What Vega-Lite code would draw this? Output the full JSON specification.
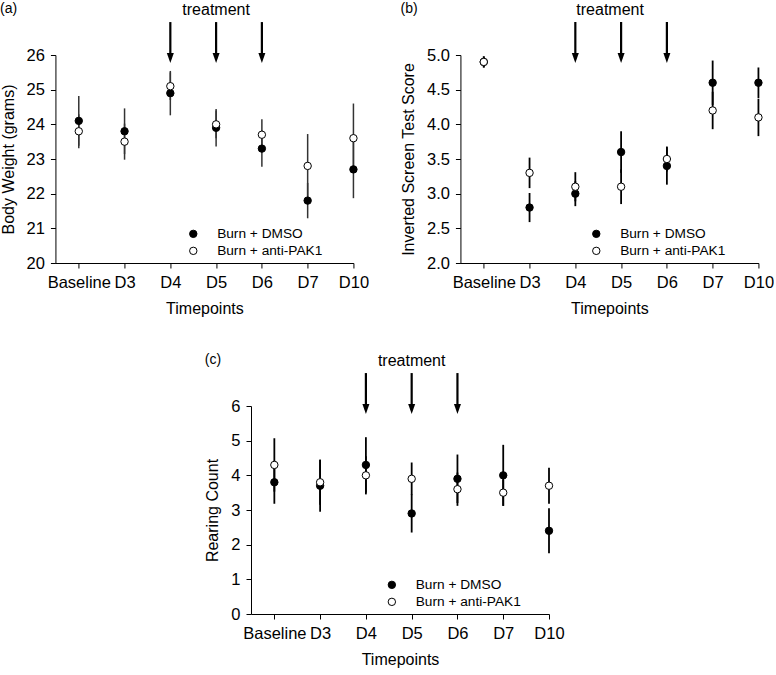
{
  "$schema": "https://vega.github.io/schema/vega-lite/v6.json",
  "padding": {"left": 0, "top": 1, "right": 0, "bottom": 0},
  "background": "white",
  "config": {
    "font": "Liberation Sans",
    "view": {"stroke": null},
    "axis": {
      "grid": false, "domainColor": "black", "tickColor": "black", "labelColor": "black", "titleColor": "black",
      "labelFontSize": 16.5, "titleFontSize": 16, "titleFontWeight": "normal", "tickSize": 5,
      "domainWidth": 1, "tickWidth": 1, "labelOverlap": false
    },
    "axisX": {"labelPadding": 6, "titlePadding": 10},
    "axisY": {"labelPadding": 6, "titlePadding": 10, "labelOverlap": false},
    "legend": {
      "labelFontSize": 13.7, "labelColor": "black", "symbolSize": 55, "symbolStrokeColor": "black",
      "symbolStrokeWidth": 1, "symbolType": "circle", "labelOffset": 17, "rowPadding": 2, "padding": 0
    },
    "title": {"fontSize": 14, "fontWeight": "normal", "anchor": "start", "frame": "bounds", "color": "black", "offset": -14}
  },
  "datasets": {
    "weight": [
      {"timepoint": "Baseline", "order": 0, "group": "Burn + DMSO", "mean": 24.1, "err": 0.72},
      {"timepoint": "D3", "order": 1, "group": "Burn + DMSO", "mean": 23.8, "err": 0.66},
      {"timepoint": "D4", "order": 2, "group": "Burn + DMSO", "mean": 24.9, "err": 0.64},
      {"timepoint": "D5", "order": 3, "group": "Burn + DMSO", "mean": 23.9, "err": 0.54},
      {"timepoint": "D6", "order": 4, "group": "Burn + DMSO", "mean": 23.3, "err": 0.52},
      {"timepoint": "D7", "order": 5, "group": "Burn + DMSO", "mean": 21.8, "err": 0.51},
      {"timepoint": "D10", "order": 6, "group": "Burn + DMSO", "mean": 22.7, "err": 0.83},
      {"timepoint": "Baseline", "order": 0, "group": "Burn + anti-PAK1", "mean": 23.8, "err": 0.49},
      {"timepoint": "D3", "order": 1, "group": "Burn + anti-PAK1", "mean": 23.5, "err": 0.52},
      {"timepoint": "D4", "order": 2, "group": "Burn + anti-PAK1", "mean": 25.1, "err": 0.4},
      {"timepoint": "D5", "order": 3, "group": "Burn + anti-PAK1", "mean": 24.0, "err": 0.4},
      {"timepoint": "D6", "order": 4, "group": "Burn + anti-PAK1", "mean": 23.7, "err": 0.45},
      {"timepoint": "D7", "order": 5, "group": "Burn + anti-PAK1", "mean": 22.8, "err": 0.92},
      {"timepoint": "D10", "order": 6, "group": "Burn + anti-PAK1", "mean": 23.6, "err": 1.0}
    ],
    "screen": [
      {"timepoint": "Baseline", "order": 0, "group": "Burn + DMSO", "mean": 4.9, "err": 0.08},
      {"timepoint": "D3", "order": 1, "group": "Burn + DMSO", "mean": 2.8, "err": 0.21},
      {"timepoint": "D4", "order": 2, "group": "Burn + DMSO", "mean": 3.0, "err": 0.18},
      {"timepoint": "D5", "order": 3, "group": "Burn + DMSO", "mean": 3.6, "err": 0.3},
      {"timepoint": "D6", "order": 4, "group": "Burn + DMSO", "mean": 3.4, "err": 0.27},
      {"timepoint": "D7", "order": 5, "group": "Burn + DMSO", "mean": 4.6, "err": 0.32},
      {"timepoint": "D10", "order": 6, "group": "Burn + DMSO", "mean": 4.6, "err": 0.22},
      {"timepoint": "Baseline", "order": 0, "group": "Burn + anti-PAK1", "mean": 4.9, "err": 0.08},
      {"timepoint": "D3", "order": 1, "group": "Burn + anti-PAK1", "mean": 3.3, "err": 0.22},
      {"timepoint": "D4", "order": 2, "group": "Burn + anti-PAK1", "mean": 3.1, "err": 0.21},
      {"timepoint": "D5", "order": 3, "group": "Burn + anti-PAK1", "mean": 3.1, "err": 0.25},
      {"timepoint": "D6", "order": 4, "group": "Burn + anti-PAK1", "mean": 3.5, "err": 0.18},
      {"timepoint": "D7", "order": 5, "group": "Burn + anti-PAK1", "mean": 4.2, "err": 0.27},
      {"timepoint": "D10", "order": 6, "group": "Burn + anti-PAK1", "mean": 4.1, "err": 0.27}
    ],
    "rearing": [
      {"timepoint": "Baseline", "order": 0, "group": "Burn + DMSO", "mean": 3.8, "err": 0.62},
      {"timepoint": "D3", "order": 1, "group": "Burn + DMSO", "mean": 3.7, "err": 0.75},
      {"timepoint": "D4", "order": 2, "group": "Burn + DMSO", "mean": 4.3, "err": 0.8},
      {"timepoint": "D5", "order": 3, "group": "Burn + DMSO", "mean": 2.9, "err": 0.55},
      {"timepoint": "D6", "order": 4, "group": "Burn + DMSO", "mean": 3.9, "err": 0.7},
      {"timepoint": "D7", "order": 5, "group": "Burn + DMSO", "mean": 4.0, "err": 0.88},
      {"timepoint": "D10", "order": 6, "group": "Burn + DMSO", "mean": 2.4, "err": 0.65},
      {"timepoint": "Baseline", "order": 0, "group": "Burn + anti-PAK1", "mean": 4.3, "err": 0.77},
      {"timepoint": "D3", "order": 1, "group": "Burn + anti-PAK1", "mean": 3.8, "err": 0.65},
      {"timepoint": "D4", "order": 2, "group": "Burn + anti-PAK1", "mean": 4.0, "err": 0.55},
      {"timepoint": "D5", "order": 3, "group": "Burn + anti-PAK1", "mean": 3.9, "err": 0.47},
      {"timepoint": "D6", "order": 4, "group": "Burn + anti-PAK1", "mean": 3.6, "err": 0.48},
      {"timepoint": "D7", "order": 5, "group": "Burn + anti-PAK1", "mean": 3.5, "err": 0.38},
      {"timepoint": "D10", "order": 6, "group": "Burn + anti-PAK1", "mean": 3.7, "err": 0.52}
    ],
    "treatment": [
      {"timepoint": "D4", "order": 2},
      {"timepoint": "D5", "order": 3},
      {"timepoint": "D6", "order": 4}
    ],
    "note": [{"label": "treatment"}]
  },
  "vconcat": [
    {
      "hconcat": [
        {
          "title": {"text": "(a)"},
          "width": 298, "height": 208,
          "layer": [
            {
              "data": {"name": "weight"},
              "mark": {"type": "errorbar", "ticks": false, "thickness": 1.5, "color": "#333333"},
              "encoding": {
                "x": {"field": "order", "type": "quantitative", "scale": {"domain": [-0.51, 6], "nice": false, "zero": false},
                  "axis": {"values": [0, 1, 2, 3, 4, 5, 6], "labelExpr": "['Baseline','D3','D4','D5','D6','D7','D10'][datum.value]", "title": "Timepoints", "labelFlush": false, "labelOverlap": false}},
                "y": {"field": "mean", "type": "quantitative", "scale": {"domain": [20, 26], "nice": false, "zero": false},
                  "axis": {"values": [20, 21, 22, 23, 24, 25, 26], "tickCount": 7, "format": "d", "title": "Body Weight (grams)", "labelOverlap": false}},
                "yError": {"field": "err"}
              }
            },
            {
              "data": {"name": "weight"},
              "mark": {"type": "point", "shape": "circle", "filled": true, "size": 55, "stroke": "black", "strokeWidth": 1, "opacity": 1},
              "encoding": {
                "x": {"field": "order", "type": "quantitative"},
                "y": {"field": "mean", "type": "quantitative",
                  "axis": {"values": [20, 21, 22, 23, 24, 25, 26], "tickCount": 7, "format": "d", "title": "Body Weight (grams)", "labelOverlap": false}},
                "fill": {"field": "group", "type": "nominal", "scale": {"domain": ["Burn + DMSO", "Burn + anti-PAK1"], "range": ["black", "white"]},
                  "legend": {"title": null, "orient": "none", "legendX": 131, "legendY": 172}}
              }
            },
            {
              "data": {"name": "treatment"},
              "mark": {"type": "rule", "strokeWidth": 2.2, "color": "black"},
              "encoding": {"x": {"field": "order", "type": "quantitative"},
                "y": {"datum": 26.95, "type": "quantitative", "axis": {"values": [20, 21, 22, 23, 24, 25, 26], "tickCount": 7, "format": "d", "title": "Body Weight (grams)", "labelOverlap": false}},
                "y2": {"datum": 25.9}}
            },
            {
              "data": {"name": "treatment"},
              "mark": {"type": "point", "shape": "M-0.35,-1L0.35,-1L0,0Z", "filled": true, "color": "black", "size": 400, "opacity": 1},
              "encoding": {"x": {"field": "order", "type": "quantitative"},
                "y": {"datum": 25.77, "type": "quantitative", "axis": {"values": [20, 21, 22, 23, 24, 25, 26], "tickCount": 7, "format": "d", "title": "Body Weight (grams)", "labelOverlap": false}}}
            },
            {
              "data": {"name": "note"},
              "mark": {"type": "text", "fontSize": 16, "color": "black"},
              "encoding": {"x": {"datum": 3, "type": "quantitative"},
                "y": {"datum": 27.3, "type": "quantitative", "axis": {"values": [20, 21, 22, 23, 24, 25, 26], "tickCount": 7, "format": "d", "title": "Body Weight (grams)", "labelOverlap": false}},
                "text": {"field": "label"}}
            }
          ]
        },
        {
          "title": {"text": "(b)"},
          "width": 298, "height": 208,
          "layer": [
            {
              "data": {"name": "screen"},
              "mark": {"type": "errorbar", "ticks": false, "thickness": 1.8, "color": "black"},
              "encoding": {
                "x": {"field": "order", "type": "quantitative", "scale": {"domain": [-0.51, 6], "nice": false, "zero": false},
                  "axis": {"values": [0, 1, 2, 3, 4, 5, 6], "labelExpr": "['Baseline','D3','D4','D5','D6','D7','D10'][datum.value]", "title": "Timepoints", "labelFlush": false, "labelOverlap": false}},
                "y": {"field": "mean", "type": "quantitative", "scale": {"domain": [2, 5], "nice": false, "zero": false},
                  "axis": {"values": [2, 2.5, 3, 3.5, 4, 4.5, 5], "tickCount": 7, "format": ".1f", "title": "Inverted Screen Test Score", "labelOverlap": false}},
                "yError": {"field": "err"}
              }
            },
            {
              "data": {"name": "screen"},
              "mark": {"type": "point", "shape": "circle", "filled": true, "size": 55, "stroke": "black", "strokeWidth": 1, "opacity": 1},
              "encoding": {
                "x": {"field": "order", "type": "quantitative"},
                "y": {"field": "mean", "type": "quantitative",
                  "axis": {"values": [2, 2.5, 3, 3.5, 4, 4.5, 5], "tickCount": 7, "format": ".1f", "title": "Inverted Screen Test Score", "labelOverlap": false}},
                "fill": {"field": "group", "type": "nominal", "scale": {"domain": ["Burn + DMSO", "Burn + anti-PAK1"], "range": ["black", "white"]},
                  "legend": {"title": null, "orient": "none", "legendX": 129, "legendY": 172}}
              }
            },
            {
              "data": {"name": "treatment"},
              "mark": {"type": "rule", "strokeWidth": 2.2, "color": "black"},
              "encoding": {"x": {"field": "order", "type": "quantitative"},
                "y": {"datum": 5.476, "type": "quantitative", "axis": {"values": [2, 2.5, 3, 3.5, 4, 4.5, 5], "tickCount": 7, "format": ".1f", "title": "Inverted Screen Test Score", "labelOverlap": false}},
                "y2": {"datum": 4.95}}
            },
            {
              "data": {"name": "treatment"},
              "mark": {"type": "point", "shape": "M-0.35,-1L0.35,-1L0,0Z", "filled": true, "color": "black", "size": 400, "opacity": 1},
              "encoding": {"x": {"field": "order", "type": "quantitative"},
                "y": {"datum": 4.885, "type": "quantitative", "axis": {"values": [2, 2.5, 3, 3.5, 4, 4.5, 5], "tickCount": 7, "format": ".1f", "title": "Inverted Screen Test Score", "labelOverlap": false}}}
            },
            {
              "data": {"name": "note"},
              "mark": {"type": "text", "fontSize": 16, "color": "black"},
              "encoding": {"x": {"datum": 2.76, "type": "quantitative"},
                "y": {"datum": 5.65, "type": "quantitative", "axis": {"values": [2, 2.5, 3, 3.5, 4, 4.5, 5], "tickCount": 7, "format": ".1f", "title": "Inverted Screen Test Score", "labelOverlap": false}},
                "text": {"field": "label"}}
            }
          ]
        }
      ],
      "spacing": 31,
      "resolve": {"scale": {"fill": "independent"}, "legend": {"fill": "independent"}}
    },
    {
      "title": {"text": "(c)"},
      "width": 327, "height": 208,
      "layer": [
        {
          "data": {"name": "rearing"},
          "mark": {"type": "errorbar", "ticks": false, "thickness": 1.8, "color": "black"},
          "encoding": {
            "x": {"field": "order", "type": "quantitative", "scale": {"domain": [-0.51, 6], "range": [0, 298], "nice": false, "zero": false},
              "axis": {"values": [0, 1, 2, 3, 4, 5, 6], "labelExpr": "['Baseline','D3','D4','D5','D6','D7','D10'][datum.value]", "title": "Timepoints", "labelFlush": false, "labelOverlap": false}},
            "y": {"field": "mean", "type": "quantitative", "scale": {"domain": [0, 6], "nice": false, "zero": false},
              "axis": {"values": [0, 1, 2, 3, 4, 5, 6], "tickCount": 7, "format": "d", "title": "Rearing Count", "labelOverlap": false}},
            "yError": {"field": "err"}
          }
        },
        {
          "data": {"name": "rearing"},
          "mark": {"type": "point", "shape": "circle", "filled": true, "size": 55, "stroke": "black", "strokeWidth": 1, "opacity": 1},
          "encoding": {
            "x": {"field": "order", "type": "quantitative"},
            "y": {"field": "mean", "type": "quantitative",
              "axis": {"values": [0, 1, 2, 3, 4, 5, 6], "tickCount": 7, "format": "d", "title": "Rearing Count", "labelOverlap": false}},
            "fill": {"field": "group", "type": "nominal", "scale": {"domain": ["Burn + DMSO", "Burn + anti-PAK1"], "range": ["black", "white"]},
              "legend": {"title": null, "orient": "none", "legendX": 134, "legendY": 172}}
          }
        },
        {
          "data": {"name": "treatment"},
          "mark": {"type": "rule", "strokeWidth": 2.2, "color": "black"},
          "encoding": {"x": {"field": "order", "type": "quantitative"},
            "y": {"datum": 6.95, "type": "quantitative", "axis": {"values": [0, 1, 2, 3, 4, 5, 6], "tickCount": 7, "format": "d", "title": "Rearing Count", "labelOverlap": false}},
            "y2": {"datum": 5.9}}
        },
        {
          "data": {"name": "treatment"},
          "mark": {"type": "point", "shape": "M-0.35,-1L0.35,-1L0,0Z", "filled": true, "color": "black", "size": 400, "opacity": 1},
          "encoding": {"x": {"field": "order", "type": "quantitative"},
            "y": {"datum": 5.77, "type": "quantitative", "axis": {"values": [0, 1, 2, 3, 4, 5, 6], "tickCount": 7, "format": "d", "title": "Rearing Count", "labelOverlap": false}}}
        },
        {
          "data": {"name": "note"},
          "mark": {"type": "text", "fontSize": 16, "color": "black"},
          "encoding": {"x": {"datum": 3, "type": "quantitative"},
            "y": {"datum": 7.3, "type": "quantitative", "axis": {"values": [0, 1, 2, 3, 4, 5, 6], "tickCount": 7, "format": "d", "title": "Rearing Count", "labelOverlap": false}},
            "text": {"field": "label"}}
        }
      ]
    }
  ],
  "spacing": 35,
  "center": true,
  "resolve": {"scale": {"fill": "independent"}, "legend": {"fill": "independent"}}
}
